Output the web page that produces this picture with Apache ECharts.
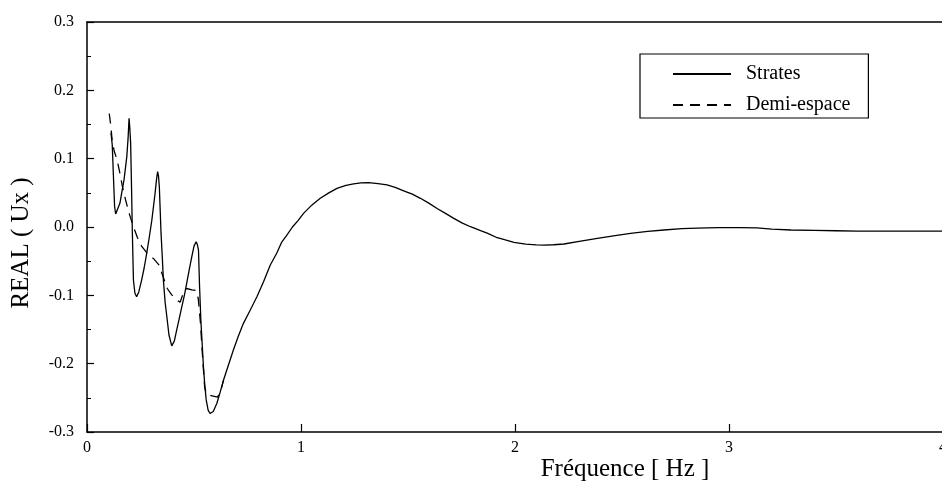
<!DOCTYPE html>
<html>
<head>
<meta charset="utf-8">
<script src="https://cdn.jsdelivr.net/npm/echarts@6/dist/echarts.min.js"></script>
<style>
  html, body { margin: 0; padding: 0; background: #fff; }
  #chart { width: 942px; height: 493px; }
</style>
</head>
<body>
<div id="chart"></div>
<script>
// Real part of the horizontal displacement vs frequency
const seriesNames = ['Strates', 'Demi-espace'];

// Layered medium (Strates)
const freqStrates = [
  0.112, 0.118, 0.124, 0.129, 0.134, 0.140, 0.154, 0.165, 0.173, 0.186, 0.192, 0.1965,
  0.200, 0.204, 0.208, 0.212, 0.217, 0.224, 0.232, 0.242, 0.255, 0.267, 0.279, 0.291,
  0.303, 0.318, 0.325, 0.330, 0.334, 0.338, 0.342, 0.346, 0.352, 0.357, 0.365, 0.373,
  0.383, 0.396, 0.408, 0.419, 0.431, 0.443, 0.455, 0.466, 0.478, 0.490, 0.500, 0.510,
  0.516, 0.521, 0.526, 0.532, 0.538, 0.544, 0.550, 0.557, 0.566, 0.575, 0.590, 0.607,
  0.622, 0.638, 0.661, 0.684, 0.707, 0.731, 0.763, 0.794, 0.825, 0.856, 0.887, 0.910,
  0.934, 0.960, 0.985, 1.012, 1.050, 1.090, 1.130, 1.168, 1.210, 1.246, 1.280, 1.316,
  1.360, 1.402, 1.440, 1.480, 1.520, 1.558, 1.597, 1.636, 1.675, 1.714, 1.752, 1.792,
  1.839, 1.870, 1.917, 1.955, 1.995, 2.050, 2.100, 2.135, 2.180, 2.229, 2.300, 2.385,
  2.460, 2.540, 2.620, 2.696, 2.780, 2.852, 2.950, 3.050, 3.130, 3.200, 3.290, 3.400,
  3.500, 3.600, 3.800, 4.000
];
const realStrates = [
  0.138, 0.120, 0.070, 0.030, 0.019, 0.021, 0.035, 0.055, 0.069, 0.103, 0.130, 0.159,
  0.145, 0.122, 0.060, -0.009, -0.078, -0.097, -0.102, -0.095, -0.078, -0.060, -0.0385, -0.015,
  0.010, 0.049, 0.070, 0.081, 0.075, 0.059, 0.025, -0.009, -0.045, -0.078, -0.110, -0.131,
  -0.158, -0.174, -0.167, -0.151, -0.134, -0.117, -0.100, -0.082, -0.062, -0.043, -0.028, -0.0215,
  -0.026, -0.034, -0.087, -0.136, -0.170, -0.204, -0.230, -0.253, -0.268, -0.273, -0.270, -0.258,
  -0.242, -0.224, -0.202, -0.180, -0.160, -0.141, -0.1215, -0.102, -0.080, -0.056, -0.038, -0.022,
  -0.012, 0.000, 0.009, 0.020, 0.032, 0.042, 0.050, 0.0566, 0.061, 0.063, 0.0645, 0.065,
  0.0635, 0.0615, 0.058, 0.053, 0.048, 0.042, 0.035, 0.027, 0.020, 0.0127, 0.006, 0.0004,
  -0.0054, -0.009, -0.0157, -0.019, -0.0224, -0.025, -0.0262, -0.0265, -0.026, -0.0249, -0.021, -0.0166,
  -0.013, -0.0093, -0.0065, -0.0044, -0.0025, -0.0015, -0.001, -0.001, -0.0012, -0.003, -0.0044, -0.005,
  -0.0055, -0.006, -0.006, -0.006
];

// Homogeneous half-space (Demi-espace)
const freqDemi = [
  0.104, 0.111, 0.118, 0.128, 0.139, 0.151, 0.165, 0.180, 0.195, 0.215, 0.235, 0.255,
  0.280, 0.310, 0.335, 0.355, 0.375, 0.395, 0.420, 0.435, 0.450, 0.466, 0.490, 0.510,
  0.520, 0.530, 0.540, 0.550, 0.560, 0.585, 0.610, 0.625, 0.638
];
const realDemi = [
  0.166, 0.149, 0.125, 0.110, 0.100, 0.083, 0.060, 0.040, 0.022, 0.002, -0.015, -0.028,
  -0.038, -0.046, -0.055, -0.072, -0.090, -0.099, -0.107, -0.110, -0.097, -0.090, -0.092, -0.093,
  -0.105, -0.140, -0.190, -0.235, -0.245, -0.247, -0.249, -0.240, -0.224
];

// Axis tick labels
const xTickLabels = ['0', '1', '2', '3', '4'];
const yTickLabels = ['-0.3', '-0.2', '-0.1', '0.0', '0.1', '0.2', '0.3'];

const xTitle = 'Fréquence [ Hz ]';
const yTitle = 'REAL ( Ux )';

const zip = (xs, ys) => xs.map((x, i) => [x, ys[i]]);
const serif = '"Liberation Serif", "Times New Roman", serif';

const chart = echarts.init(document.getElementById('chart'), null, { renderer: 'canvas' });

chart.setOption({
  backgroundColor: '#ffffff',
  animation: false,
  grid: {
    left: 87, top: 22, right: -1, bottom: 61,
    containLabel: false,
    outerBoundsMode: 'none'
  },
  legend: {
    orient: 'vertical',
    left: 640,
    top: 54,
    padding: [10, 18, 3, 32],
    itemGap: 11,
    itemWidth: 58,
    itemHeight: 14,
    borderColor: '#000',
    borderWidth: 1.2,
    backgroundColor: '#fff',
    data: seriesNames,
    itemStyle: { opacity: 0, borderWidth: 0 },
    textStyle: { fontFamily: serif, fontSize: 20, color: '#000', padding: [0, 0, 0, 10] }
  },
  xAxis: [
    {
      type: 'value',
      min: 0,
      max: 4,
      interval: 1,
      axisLine: { show: true, onZero: false, lineStyle: { color: '#000', width: 1.5 } },
      axisTick: { show: true, inside: true, length: 8, lineStyle: { color: '#000', width: 1.2 } },
      axisLabel: {
        margin: 8,
        fontFamily: serif,
        fontSize: 16,
        color: '#000',
        formatter: v => xTickLabels[Math.round(v)]
      },
      splitLine: { show: false }
    },
    {
      type: 'value',
      position: 'top',
      min: 0,
      max: 4,
      interval: 1,
      axisLine: { show: true, onZero: false, lineStyle: { color: '#000', width: 1.5 } },
      axisTick: { show: false },
      axisLabel: { show: false },
      splitLine: { show: false }
    }
  ],
  yAxis: {
    type: 'value',
    min: -0.3,
    max: 0.3,
    interval: 0.1,
    axisLine: { show: true, onZero: false, lineStyle: { color: '#000', width: 1.5 } },
    axisTick: { show: true, inside: true, length: 7, lineStyle: { color: '#000', width: 1.2 } },
    minorTick: { show: true, splitNumber: 2, length: 4, lineStyle: { color: '#000', width: 1 } },
    axisLabel: {
      margin: 13,
      fontFamily: serif,
      fontSize: 16,
      color: '#000',
      formatter: v => yTickLabels[Math.round((v + 0.3) * 10)]
    },
    splitLine: { show: false }
  },
  series: [
    {
      name: seriesNames[0],
      type: 'line',
      xAxisIndex: 0,
      symbol: 'none',
      data: zip(freqStrates, realStrates),
      lineStyle: { color: '#000', width: 1.3 },
      itemStyle: { color: '#000' },
      z: 3
    },
    {
      name: seriesNames[1],
      type: 'line',
      xAxisIndex: 0,
      symbol: 'none',
      data: zip(freqDemi, realDemi),
      lineStyle: { color: '#000', width: 1.3, type: [10, 7] },
      itemStyle: { color: '#000' },
      z: 2
    }
  ],
  graphic: [
    {
      type: 'text',
      x: 625,
      y: 469,
      style: {
        text: xTitle,
        font: '25px ' + serif,
        fill: '#000',
        align: 'center',
        verticalAlign: 'middle'
      }
    },
    {
      type: 'text',
      x: 21,
      y: 243,
      rotation: Math.PI / 2,
      style: {
        text: yTitle,
        font: '25px ' + serif,
        fill: '#000',
        align: 'center',
        verticalAlign: 'middle'
      }
    }
  ]
});
</script>
</body>
</html>
